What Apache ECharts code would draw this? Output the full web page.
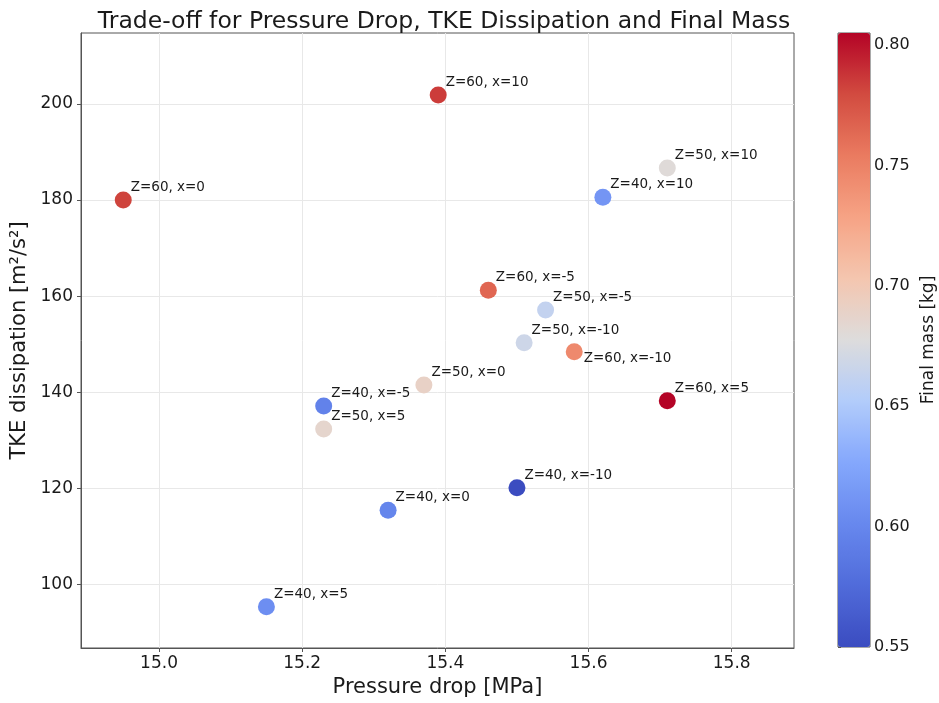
<!DOCTYPE html>
<html>
<head>
<meta charset="utf-8">
<script src="https://cdn.jsdelivr.net/npm/echarts@6/dist/echarts.min.js"></script>
<style>
html,body{margin:0;padding:0;background:#fff;}
#chart_scatter{width:939px;height:703px;}
</style>
</head>
<body>
<div id="chart_scatter"></div>
<script>
// data
var case_names = ['Z=40, x=-10','Z=40, x=-5','Z=40, x=0','Z=40, x=5','Z=40, x=10',
                  'Z=50, x=-10','Z=50, x=-5','Z=50, x=0','Z=50, x=5','Z=50, x=10',
                  'Z=60, x=-10','Z=60, x=-5','Z=60, x=0','Z=60, x=5','Z=60, x=10'];
var pressure_drop = [15.50,15.23,15.32,15.15,15.62, 15.51,15.54,15.37,15.23,15.71, 15.58,15.46,14.95,15.71,15.39];
var tke_dissipation = [120.1,137.1,115.4,95.3,180.6, 150.3,157.1,141.5,132.3,186.7, 148.4,161.2,180.0,138.2,201.9];
var final_mass = [0.550,0.596,0.599,0.606,0.612, 0.668,0.662,0.690,0.686,0.680, 0.745,0.765,0.782,0.805,0.785];
var x_ticks = [15.0,15.2,15.4,15.6,15.8];
var y_ticks = [100,120,140,160,180,200];
var mass_ticks = [0.55,0.60,0.65,0.70,0.75,0.80];

// coolwarm
var coolwarm = ['#3b4cc0','#506bda','#6788ee','#84a7fc','#b2ccfb','#dddcdc','#f4c6af','#f6a385','#ea7b60','#d24b40','#b40426'];

function creatChart_scatter(){
	var myChart = echarts.init(document.getElementById("chart_scatter"));
	var points = [];
	for(var i=0;i<case_names.length;i++){
		var p = {name:case_names[i], value:[pressure_drop[i],tke_dissipation[i],final_mass[i]]};
		if(case_names[i]=='Z=60, x=-10'){
			p.label = {position:[18,15]};
		}
		points.push(p);
	}
	var font = 'DejaVu Sans';
	var option = {
		animation:false,
		backgroundColor:'#fff',
		title:{
			text:'Trade-off for Pressure Drop, TKE Dissipation and Final Mass',
			left:439, top:5, textAlign:'center',
			textStyle:{fontFamily:font,fontSize:23.5,fontWeight:'normal',color:'#1a1a1a'}
		},
		grid:[
			{left:81,top:33,width:713,height:615,show:true,borderColor:'#555',borderWidth:1},
			{left:838,top:33,width:32,height:614,show:true,borderColor:'#555',borderWidth:1}
		],
		xAxis:[
			{
				type:'value', gridIndex:0, min:14.891, max:15.887,
				name:'Pressure drop [MPa]', nameLocation:'middle', nameGap:29,
				nameTextStyle:{fontFamily:font,fontSize:21,color:'#1a1a1a'},
				axisLine:{show:true,onZero:false,lineStyle:{color:'#555'}},
				axisTick:{show:true,length:4,customValues:x_ticks,lineStyle:{color:'#555'}},
				axisLabel:{fontFamily:font,fontSize:17,color:'#1a1a1a',margin:7,customValues:x_ticks,
					formatter:function(v){return v.toFixed(1);}},
				splitLine:{show:true,lineStyle:{color:'#e8e8e8'}}
			},
			{type:'value', gridIndex:1, show:false, min:0, max:1}
		],
		yAxis:[
			{
				type:'value', gridIndex:0, min:86.7, max:214.8,
				name:'TKE dissipation [m²/s²]', nameLocation:'middle', nameGap:48,
				nameTextStyle:{fontFamily:font,fontSize:21,color:'#1a1a1a'},
				axisLine:{show:true,onZero:false,lineStyle:{color:'#555'}},
				axisTick:{show:true,length:4,customValues:y_ticks,lineStyle:{color:'#555'}},
				axisLabel:{fontFamily:font,fontSize:17,color:'#1a1a1a',margin:8,customValues:y_ticks},
				splitLine:{show:true,lineStyle:{color:'#e8e8e8'}}
			},
			{
				type:'value', gridIndex:1, position:'right', min:0.55, max:0.805,
				name:'Final mass [kg]', nameLocation:'middle', nameGap:50, nameRotate:90,
				nameTextStyle:{fontFamily:font,fontSize:17,color:'#1a1a1a'},
				axisLine:{show:false},
				axisTick:{show:true,length:3,customValues:mass_ticks,lineStyle:{color:'#555'}},
				axisLabel:{fontFamily:font,fontSize:16,color:'#1a1a1a',margin:4,customValues:mass_ticks,
					formatter:function(v){return v.toFixed(2);}},
				splitLine:{show:false}
			}
		],
		visualMap:{
			type:'continuous', dimension:2, seriesIndex:0,
			min:0.55, max:0.805, calculable:false, showLabel:false,
			text:null, itemWidth:32, itemHeight:614, padding:0,
			left:838, top:33,
			inRange:{color:coolwarm}
		},
		series:[
			{
				name:'Final mass',
				type:'scatter',
				xAxisIndex:0, yAxisIndex:0,
				symbolSize:17,
				label:{
					show:true, position:[16,-4], align:'left', verticalAlign:'middle',
					formatter:'{b}', fontFamily:font, fontSize:13.5, color:'#1a1a1a'
				},
				itemStyle:{opacity:1},
				data:points
			}
		]
	};
	myChart.setOption(option);
}
creatChart_scatter();
</script>
</body>
</html>
